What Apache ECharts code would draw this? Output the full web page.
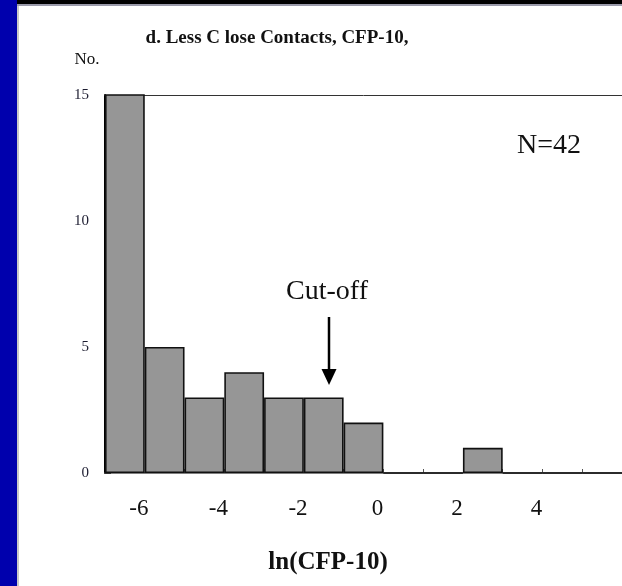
<!DOCTYPE html>
<html>
<head>
<meta charset="utf-8">
<script src="https://cdn.jsdelivr.net/npm/echarts@6/dist/echarts.min.js"></script>
<style>
  html, body { margin: 0; padding: 0; background: #ffffff; }
  #chart { width: 622px; height: 586px; }
</style>
</head>
<body>
<div id="chart"></div>
<script>
// Histogram bins of ln(CFP-10), one unit wide
const binNames = ['-6', '-5', '-4', '-3', '-2', '-1', '0', '1', '2', '3', '4', '5', '6'];
// Counts per bin (first bin runs past the top of the axis; total N = 42)
const counts = [21, 5, 3, 4, 3, 3, 2, 0, 0, 1, 0, 0, 0];
// Bins whose names are printed under the axis
const shownTickLabels = ['-6', '-4', '-2', '0', '2', '4'];
// Y axis range
const yMin = 0, yMax = 15, yStep = 5;
const totalN = counts.reduce((a, b) => a + b, 0);

const serif = '"Liberation Serif", "Times New Roman", serif';

const chart = echarts.init(document.getElementById('chart'), null, { renderer: 'canvas' });

chart.setOption({
  backgroundColor: '#ffffff',
  animation: false,
  // plot area runs slightly past the right edge of the canvas
  grid: { left: 105, top: 95, bottom: 113, width: 520, show: false },
  xAxis: [{
    type: 'category',
    data: binNames,
    boundaryGap: true,
    axisLine: { show: true, lineStyle: { color: '#555555', width: 1.5 } },
    axisTick: { show: true, inside: true, length: 4, interval: 0, lineStyle: { color: '#555555', width: 1 } },
    axisLabel: {
      show: true,
      interval: (idx, name) => shownTickLabels.indexOf(name) >= 0,
      margin: 24,
      padding: [0, 0, 0, 28],
      fontFamily: serif,
      fontSize: 23,
      color: '#111111'
    },
    splitLine: { show: false }
  }, {
    // top frame line of the plot area
    type: 'category',
    data: binNames,
    position: 'top',
    axisLine: { show: true, lineStyle: { color: '#333333', width: 1 } },
    axisTick: { show: false },
    axisLabel: { show: false },
    splitLine: { show: false }
  }],
  yAxis: {
    type: 'value',
    min: yMin, max: yMax, interval: yStep,
    axisLine: { show: true, lineStyle: { color: '#000000', width: 2 } },
    axisTick: { show: true, inside: true, length: 6, lineStyle: { color: '#333333', width: 1 } },
    axisLabel: { margin: 16, fontFamily: serif, fontSize: 15, color: '#1c1c30' },
    splitLine: { show: false }
  },
  series: [{
    type: 'bar',
    data: counts,
    barCategoryGap: 0,
    clip: true,
    itemStyle: { color: '#969696', borderColor: '#111111', borderWidth: 1.6 }
  }],
  graphic: [
    // slide frame: blue band on the left, dark band on top
    { type: 'rect', shape: { x: 0, y: 0, width: 17, height: 586 }, style: { fill: '#0000ad' }, z: 100 },
    { type: 'rect', shape: { x: 17, y: 5, width: 2, height: 581 }, style: { fill: '#c8c8c8' }, z: 100 },
    { type: 'rect', shape: { x: 17, y: 0, width: 605, height: 4 }, style: { fill: '#000000' }, z: 100 },
    { type: 'rect', shape: { x: 17, y: 4, width: 605, height: 2 }, style: { fill: '#9a9aaa' }, z: 100 },
    // chart title
    { type: 'text', x: 277, y: 38, style: {
        text: 'd. Less C lose Contacts, CFP-10,', fontFamily: serif, fontWeight: 'bold',
        fontSize: 19, fill: '#111111', align: 'center', verticalAlign: 'middle' } },
    // y axis unit
    { type: 'text', x: 87, y: 60, style: {
        text: 'No.', fontFamily: serif, fontSize: 17, fill: '#111111', align: 'center', verticalAlign: 'middle' } },
    // sample size
    { type: 'text', x: 549, y: 146, style: {
        text: 'N=' + totalN, fontFamily: serif, fontSize: 28, fill: '#111111', align: 'center', verticalAlign: 'middle' } },
    // cut-off annotation
    { type: 'text', x: 327, y: 292, style: {
        text: 'Cut-off', fontFamily: serif, fontSize: 28, fill: '#111111', align: 'center', verticalAlign: 'middle' } },
    { type: 'line', shape: { x1: 329, y1: 317, x2: 329, y2: 372 }, style: { stroke: '#000000', lineWidth: 2.5 } },
    { type: 'polygon', shape: { points: [[321.5, 369], [336.5, 369], [329, 385]] }, style: { fill: '#000000' } },
    // x axis name
    { type: 'text', x: 328, y: 563, style: {
        text: 'ln(CFP-10)', fontFamily: serif, fontWeight: 'bold', fontSize: 25, fill: '#111111',
        align: 'center', verticalAlign: 'middle' } }
  ]
});
</script>
</body>
</html>
